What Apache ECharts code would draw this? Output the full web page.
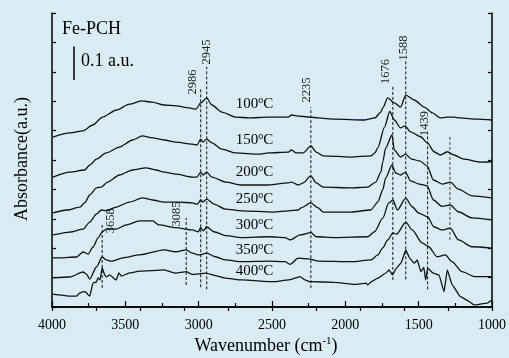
<!DOCTYPE html>
<html><head><meta charset="utf-8">
<script src="https://cdn.jsdelivr.net/npm/echarts@6/dist/echarts.min.js"></script>
<style>html,body{margin:0;padding:0;background:#d9ecf3}#c{width:509px;height:358px}</style>
</head><body><div id="c"></div>
<script>
// ---- data (wavenumber cm-1, absorbance offset a.u.) ----
const temps = ['100', '150', '200', '250', '300', '350', '400'];
const s100 = [[3993,.578],[3878,.592],[3790,.599],[3722,.619],[3655,.646],[3560,.670],[3472,.690],[3391,.701],[3316,.697],[3235,.687],[3154,.684],[3065,.677],[3018,.673],[2986,.694],[2945,.711],[2910,.687],[2842,.663],[2747,.646],[2659,.643],[2524,.646],[2388,.646],[2368,.653],[2334,.650],[2239,.646],[2185,.643],[2070,.639],[1867,.636],[1799,.643],[1758,.663],[1745,.677],[1711,.711],[1666,.694],[1623,.680],[1588,.721],[1530,.704],[1462,.680],[1406,.660],[1352,.643],[1305,.646],[1259,.646],[1217,.643],[1102,.639],[1000,.636]];
const s150 = [[3993,.442],[3878,.459],[3777,.466],[3743,.483],[3697,.503],[3630,.524],[3540,.544],[3451,.568],[3384,.582],[3316,.575],[3235,.568],[3154,.561],[3045,.554],[3011,.551],[2986,.571],[2971,.561],[2945,.571],[2910,.558],[2842,.537],[2747,.524],[2591,.520],[2524,.524],[2388,.527],[2368,.534],[2334,.524],[2287,.524],[2235,.548],[2199,.527],[2151,.514],[1962,.510],[1826,.514],[1799,.524],[1779,.541],[1733,.612],[1697,.665],[1666,.636],[1623,.609],[1594,.616],[1555,.596],[1487,.579],[1440,.558],[1395,.528],[1352,.517],[1305,.528],[1259,.517],[1192,.503],[1079,.493],[1000,.494]];
const s200 = [[3993,.320],[3898,.330],[3810,.340],[3777,.354],[3743,.381],[3697,.405],[3663,.408],[3621,.425],[3540,.449],[3451,.466],[3359,.473],[3291,.466],[3235,.459],[3154,.452],[3045,.442],[3011,.442],[2986,.459],[2971,.449],[2945,.459],[2910,.442],[2815,.425],[2707,.415],[2524,.415],[2388,.422],[2368,.425],[2321,.415],[2287,.422],[2235,.446],[2199,.422],[2151,.408],[1962,.405],[1847,.408],[1792,.425],[1758,.459],[1745,.493],[1725,.541],[1682,.585],[1666,.534],[1623,.510],[1590,.520],[1548,.503],[1494,.497],[1442,.480],[1399,.432],[1339,.418],[1284,.425],[1230,.401],[1135,.378],[1000,.371]];
const s250 = [[3993,.245],[3878,.255],[3788,.265],[3743,.289],[3697,.316],[3663,.330],[3630,.327],[3562,.340],[3472,.357],[3382,.371],[3314,.364],[3235,.357],[3133,.357],[3043,.354],[3009,.350],[2986,.364],[2971,.357],[2945,.367],[2896,.350],[2817,.333],[2705,.327],[2490,.323],[2388,.327],[2321,.330],[2298,.338],[2235,.354],[2185,.337],[2151,.323],[1962,.323],[1826,.330],[1779,.357],[1745,.398],[1725,.439],[1682,.483],[1657,.456],[1623,.449],[1590,.459],[1555,.429],[1496,.418],[1442,.412],[1399,.364],[1341,.342],[1284,.347],[1230,.324],[1135,.303],[1000,.296]];
const s300 = [[3993,.167],[3946,.167],[3833,.170],[3788,.187],[3754,.180],[3720,.204],[3686,.235],[3658,.255],[3630,.265],[3562,.265],[3494,.279],[3404,.293],[3314,.293],[3269,.279],[3156,.270],[3043,.262],[3002,.256],[2986,.270],[2969,.259],[2945,.273],[2896,.256],[2817,.243],[2705,.236],[2524,.239],[2411,.236],[2377,.228],[2309,.245],[2235,.253],[2197,.239],[2072,.236],[1847,.239],[1801,.256],[1745,.302],[1704,.354],[1676,.364],[1645,.330],[1588,.370],[1544,.341],[1499,.319],[1439,.307],[1397,.273],[1341,.262],[1284,.268],[1228,.228],[1137,.205],[1000,.200]];
const s350 = [[3993,.099],[3878,.102],[3788,.119],[3765,.112],[3743,.095],[3697,.136],[3658,.170],[3630,.160],[3596,.156],[3517,.167],[3404,.177],[3235,.194],[3156,.188],[3085,.194],[3043,.183],[2998,.177],[2945,.183],[2885,.171],[2817,.160],[2705,.154],[2524,.156],[2411,.154],[2377,.145],[2321,.166],[2241,.163],[2185,.156],[1960,.154],[1824,.160],[1779,.177],[1745,.201],[1711,.228],[1676,.252],[1650,.248],[1588,.289],[1544,.262],[1477,.218],[1432,.205],[1374,.171],[1318,.177],[1273,.154],[1205,.120],[1115,.103],[1000,.103]];
const s400 = [[3993,.044],[3946,.041],[3878,.037],[3833,.037],[3810,.048],[3788,.052],[3770,.051],[3754,.041],[3743,.037],[3720,.082],[3697,.085],[3686,.099],[3672,.092],[3658,.134],[3641,.109],[3630,.102],[3607,.109],[3562,.092],[3544,.116],[3526,.105],[3472,.116],[3404,.122],[3235,.126],[3156,.115],[3085,.120],[3043,.111],[2952,.115],[2817,.098],[2705,.092],[2490,.086],[2388,.092],[2309,.103],[2276,.092],[2241,.086],[2072,.084],[1937,.077],[1858,.081],[1847,.075],[1824,.086],[1779,.098],[1725,.115],[1702,.126],[1679,.109],[1650,.133],[1620,.150],[1588,.194],[1560,.165],[1530,.149],[1510,.160],[1485,.120],[1465,.135],[1452,.092],[1439,.132],[1400,.115],[1361,.109],[1327,.052],[1305,.126],[1271,.075],[1215,.035],[1160,.020],[1124,.007],[1034,.013],[1000,.024]];
const spectra = [s100, s150, s200, s250, s300, s350, s400];

const peakWave  = [3658, 3085, 2986, 2945, 2235, 1676, 1588, 1439, 1287];
const peakText  = ['3658', '3085', '2986', '2945', '2235', '1676', '1588', '1439', ''];
const peakTop   = [.279, .303, .740, .817, .679, .755, .840, .591, .579];
const peakBot   = [.065, .075, .067, .060, .064, .092, .094, .060, .228];

const xTicksBottom = [4000, 3500, 3000, 2500, 2000, 1500, 1000];

// ---- layout (label anchors in data space) ----
const tempLabelWave = 2747;
const tempLabelVal = [.690, .568, .459, .367, .279, .194, .122];
const peakLabelPos = [[3600,.293],[3150,.316],[3038,.765],[2947,.867],[2260,.738],[1728,.801],[1603,.881],[1457,.624]];

const SERIF = '"Liberation Serif","Times New Roman",serif';
const chart = echarts.init(document.getElementById('c'));

const series = [];
spectra.forEach((d, i) => series.push({
  type: 'line', name: temps[i], data: d, showSymbol: false, symbol: 'none',
  smooth: i === 6 ? 0.1 : 0.25, smoothMonotone: 'x',
  lineStyle: { color: '#111', width: 1.3 }, silent: true, animation: false
}));
peakWave.forEach((w, i) => series.push({
  type: 'line', data: [[w, peakBot[i]], [w, peakTop[i]]], symbol: 'none',
  lineStyle: { color: i === 8 ? '#444' : '#111', width: 1, type: [3, 2] }, silent: true, animation: false
}));

const axisCommon = {
  type: 'value', min: 1000, max: 4000, inverse: true,
  axisLine: { show: true, lineStyle: { color: '#000', width: 1.5 } },
  splitLine: { show: false }
};

chart.setOption({
  animation: false,
  backgroundColor: '#d9ecf3',
  grid: { left: 52, right: 14, top: 13, bottom: 51 },
  xAxis: [
    Object.assign({}, axisCommon, {
      position: 'bottom', interval: 500,
      axisTick: { inside: true, length: 6, lineStyle: { color: '#000', width: 1.2 } },
      minorTick: { show: true, splitNumber: 2, length: 4, lineStyle: { color: '#000', width: 1.2 } },
      axisLabel: { color: '#000', fontSize: 14, fontFamily: SERIF, margin: 11,
        formatter: v => xTicksBottom.includes(v) ? String(v) : '' }
    }),
    Object.assign({}, axisCommon, {
      position: 'top', interval: 300,
      axisTick: { inside: true, length: 4, lineStyle: { color: '#000', width: 1.2 } },
      axisLabel: { show: false }
    })
  ],
  yAxis: [
    { type: 'value', min: 0, max: 1, interval: 0.1, position: 'left',
      axisLine: { show: true, lineStyle: { color: '#000', width: 1.5 } },
      axisTick: { inside: true, length: 4, lineStyle: { color: '#000', width: 1.2 } },
      axisLabel: { show: false }, splitLine: { show: false } },
    { type: 'value', min: 0, max: 1, interval: 0.1, position: 'right',
      axisLine: { show: true, lineStyle: { color: '#000', width: 1.5 } },
      axisTick: { inside: true, length: 4, lineStyle: { color: '#000', width: 1.2 } },
      axisLabel: { show: false }, splitLine: { show: false } }
  ],
  series: series
});

const px = (w, v) => chart.convertToPixel({ xAxisIndex: 0, yAxisIndex: 0 }, [w, v]);
const g = [];
g.push({ type: 'text', style: { x: 62, y: 29.5, text: 'Fe-PCH', font: '18px ' + SERIF, fill: '#000', verticalAlign: 'middle' } });
g.push({ type: 'line', shape: { x1: 74, y1: 46.5, x2: 74, y2: 80 }, style: { stroke: '#000', lineWidth: 1.5 } });
g.push({ type: 'text', style: { x: 81, y: 61, text: '0.1 a.u.', font: '18px ' + SERIF, fill: '#000', verticalAlign: 'middle' } });
g.push({ type: 'text', x: 22, y: 159, rotation: Math.PI / 2,
  style: { x: 0, y: 0, text: 'Absorbance(a.u.)', font: '18px ' + SERIF, fill: '#000', align: 'center', verticalAlign: 'middle' } });
g.push({ type: 'text', style: { x: 266, y: 346, text: '{a|Wavenumber (cm}{s|-1}{a|)}', align: 'center', verticalAlign: 'middle',
  rich: { a: { fontSize: 18, fontFamily: SERIF, fill: '#000', color: '#000' }, s: { fontSize: 11, fontFamily: SERIF, color: '#000', verticalAlign: 'top', padding: [0, 0, 9, 0] } } } });
temps.forEach((t, i) => {
  const p = px(tempLabelWave, tempLabelVal[i]);
  g.push({ type: 'text', style: { x: p[0], y: p[1], text: '{a|' + t + '}{s|o}{a|C}', align: 'left', verticalAlign: 'middle',
    rich: { a: { fontSize: 15, fontFamily: SERIF, color: '#000' }, s: { fontSize: 10, fontFamily: SERIF, color: '#000', verticalAlign: 'top', padding: [0, 0, 8, 0] } } } });
});
peakLabelPos.forEach((pp, i) => {
  const p = px(pp[0], pp[1]);
  g.push({ type: 'text', x: p[0], y: p[1], rotation: Math.PI / 2,
    style: { x: 0, y: 0, text: peakText[i], font: '12.5px ' + SERIF, fill: '#222', align: 'center', verticalAlign: 'middle' } });
});
chart.setOption({ graphic: g });
</script></body></html>
